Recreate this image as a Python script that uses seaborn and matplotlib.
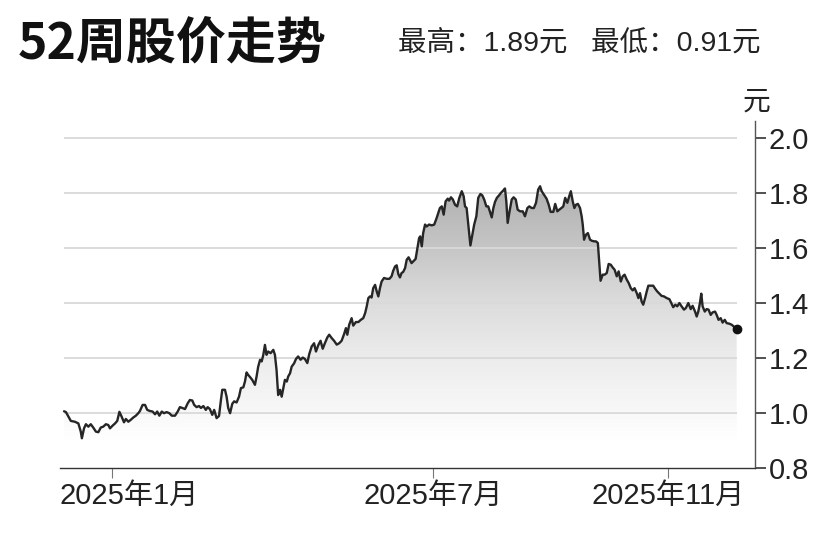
import numpy as np
import matplotlib
matplotlib.use("Agg")
import matplotlib.pyplot as plt
import matplotlib.transforms as mtransforms
import seaborn as sns
from matplotlib.colors import LinearSegmentedColormap

# ---------------- data (trading-day index, price in 元) ----------------
day = [0.4, 1.1, 2.0, 2.9, 4.4, 5.7, 6.6, 7.0, 7.8, 8.5, 9.4, 10.3, 11.2, 12.2, 13.1, 14.0, 14.9,
       15.9, 16.8, 17.4, 18.4, 19.3, 20.1, 20.9, 21.7, 22.6, 23.3, 24.2, 25.1, 26.0, 27.0, 27.9,
       28.5, 29.5, 30.4, 31.2, 32.2, 33.2, 34.1, 34.9, 35.7, 36.6, 37.4, 38.4, 39.4, 40.3, 41.5,
       42.5, 43.3, 44.2, 45.2, 46.2, 47.0, 47.9, 48.6, 49.5, 50.4, 51.1, 52.0, 52.9, 53.6, 54.4,
       55.3, 56.0, 56.9, 57.8, 58.5, 59.0, 60.0, 60.6, 61.2, 61.9, 62.7, 63.4, 64.3, 65.2, 65.9,
       66.8, 67.4, 68.0, 68.6, 69.3, 70.1, 71.1, 71.7, 72.3, 73.0, 73.6, 74.2, 74.8, 75.4, 76.0,
       76.9, 77.9, 78.5, 79.1, 79.7, 80.4, 81.0, 81.6, 82.2, 82.9, 83.4, 84.1, 84.7, 85.6,
       86.3, 87.1, 88.0, 88.8, 89.6, 90.5, 91.2, 92.1, 93.0, 93.7, 94.6, 95.4, 96.2, 97.0, 97.9,
       98.6, 99.5, 100.4, 101.4, 102.3, 103.2, 104.1, 104.8, 105.3, 106.0, 106.9, 107.5, 108.5,
       109.4, 110.3, 111.2, 111.9, 112.5, 113.1, 113.7, 114.3, 114.9, 115.6, 116.2, 116.8, 117.4,
       118.0, 118.9, 119.9, 120.9, 121.7, 122.3, 123.0, 123.6, 124.2, 124.8, 125.4, 126.0, 126.7,
       127.3, 128.0, 129.1, 130.6,
       131.9, 132.3, 132.9, 133.4, 134.1, 134.7, 135.6, 136.6, 137.5, 138.4, 139.0, 139.6, 140.3,
       141.0, 141.7, 142.5, 143.0, 143.7, 144.4, 145.2, 146.0, 146.8, 147.7, 148.4, 148.9, 149.5,
       150.1, 150.9, 151.6, 152.3, 153.1, 153.8, 154.6, 155.3, 156.0, 156.8, 157.5, 158.1, 158.8,
       159.4, 160.0, 160.7, 161.5, 162.2, 163.0, 163.7, 164.2, 164.7, 165.4, 166.2, 166.9, 167.7,
       168.4, 169.3,
       170.3, 171.1, 172.0, 172.7, 173.6, 174.4, 175.2, 176.0, 176.7, 177.3, 178.1, 179.1, 179.9,
       180.6, 181.6, 182.3, 183.1, 183.8, 184.6, 185.3, 186.0, 186.8, 187.5, 188.1, 188.8, 189.4,
       190.0, 190.7, 191.5, 192.1, 192.5, 193.0, 193.7, 194.4, 195.2, 195.9, 196.7, 197.4, 198.1,
       198.6, 199.1, 199.9, 200.6, 201.4, 202.1, 202.9, 203.6, 204.3, 205.1, 205.8, 206.6, 207.3,
       208.0, 208.8, 209.5,
       210.3, 211.0, 211.7, 212.5, 213.1, 213.7, 214.3, 214.9, 215.6, 216.2, 216.8, 217.7, 218.6,
       219.4, 220.1, 220.9, 221.7, 222.6, 223.6, 224.6, 225.3, 226.0, 226.8, 227.5, 228.3, 229.1,
       230.0, 230.7, 231.6, 232.5, 233.2, 234.1, 234.7, 235.3, 235.9, 236.4, 236.9, 237.7, 238.4,
       239.1, 239.9, 240.6, 241.5, 242.1, 242.8, 243.6, 244.3, 245.1, 245.8, 246.8, 247.7, 248.4,
       249.5]

price = [1.006, 1.003, 0.987, 0.971, 0.968, 0.962, 0.932, 0.908, 0.944, 0.959, 0.950, 0.959, 0.947,
         0.932, 0.930, 0.947, 0.950, 0.959, 0.956, 0.944, 0.954, 0.962, 0.971, 1.004, 0.987, 0.966,
         0.978, 0.968, 0.975, 0.983, 0.990, 0.999, 1.007, 1.029, 1.029, 1.011, 1.007, 1.005, 0.995,
         1.005, 0.990, 1.005, 0.999, 1.003, 0.999, 0.990, 0.990,
         1.005, 1.021, 1.018, 1.014, 1.035, 1.047, 1.045, 1.029, 1.021, 1.025, 1.018, 1.025, 1.011,
         1.021, 1.014, 0.993, 1.011, 0.981, 0.989, 1.047, 1.084, 1.084, 1.059, 1.018, 0.999, 1.033,
         1.042, 1.038, 1.059, 1.090, 1.093, 1.114, 1.147, 1.138, 1.130, 1.120, 1.102, 1.132, 1.168,
         1.193, 1.187, 1.211, 1.247, 1.211, 1.223, 1.217, 1.229, 1.211, 1.156, 1.065, 1.084, 1.059,
         1.090, 1.120, 1.114, 1.132, 1.144, 1.168, 1.180,
         1.196, 1.205, 1.193, 1.201, 1.196, 1.181, 1.213, 1.241, 1.253, 1.223, 1.247, 1.262, 1.233,
         1.253, 1.274, 1.284, 1.272, 1.262, 1.248, 1.253, 1.262, 1.286, 1.308, 1.284, 1.320, 1.344,
         1.317, 1.330, 1.330, 1.338, 1.344, 1.362, 1.387, 1.417, 1.423, 1.419, 1.453, 1.465, 1.441,
         1.423, 1.453, 1.477, 1.490, 1.487, 1.487, 1.496, 1.516, 1.532, 1.536, 1.504, 1.492, 1.508,
         1.512, 1.526, 1.556, 1.565, 1.544, 1.559,
         1.635, 1.641, 1.605, 1.653, 1.684, 1.677, 1.684, 1.681, 1.684, 1.708, 1.726, 1.744, 1.750,
         1.720, 1.768, 1.778, 1.771, 1.783, 1.775, 1.756, 1.750, 1.781, 1.805, 1.787, 1.750, 1.744,
         1.684, 1.608, 1.647, 1.684, 1.714, 1.781, 1.795, 1.790, 1.775, 1.750, 1.750, 1.732, 1.710,
         1.744, 1.766, 1.781, 1.790, 1.799, 1.807, 1.815, 1.768, 1.690, 1.732, 1.775, 1.783, 1.775,
         1.738, 1.732,
         1.732, 1.714, 1.744, 1.750, 1.744, 1.744, 1.763, 1.811, 1.823, 1.805, 1.793, 1.778, 1.756,
         1.730, 1.730, 1.759, 1.732, 1.738, 1.744, 1.750, 1.781, 1.763, 1.787, 1.805, 1.768, 1.744,
         1.756, 1.759, 1.744, 1.714, 1.684, 1.629, 1.647, 1.653, 1.629, 1.625, 1.623, 1.623, 1.617,
         1.550, 1.480, 1.502, 1.502, 1.508, 1.541, 1.538, 1.528, 1.520, 1.496, 1.514, 1.477, 1.496,
         1.502, 1.484, 1.472,
         1.453, 1.445, 1.453, 1.435, 1.417, 1.435, 1.405, 1.393, 1.417, 1.441, 1.462, 1.462, 1.462,
         1.450, 1.441, 1.433, 1.425, 1.423, 1.417, 1.413, 1.399, 1.384, 1.393, 1.387, 1.399, 1.387,
         1.375, 1.381, 1.399, 1.377, 1.389, 1.368, 1.350, 1.368, 1.399, 1.433, 1.387, 1.368, 1.377,
         1.375, 1.356, 1.365, 1.368, 1.356, 1.338, 1.344, 1.328, 1.338, 1.326, 1.324, 1.320, 1.314,
         1.304]

month_days = [18, 137, 224]
month_labels = ["2025年1月", "2025年7月", "2025年11月"]
y_ticks = [0.8, 1.0, 1.2, 1.4, 1.6, 1.8, 2.0]
title = "52周股价走势"
subtitle = "最高：1.89元   最低：0.91元"
unit = "元"

# ---------------- style ----------------
sns.set_style("white", {"ytick.right": True, "xtick.bottom": True})
plt.rcParams["font.family"] = ["Liberation Sans", "Noto Sans CJK SC"]

fig = plt.figure(figsize=(8.34, 5.56), dpi=100)
ax = fig.add_axes([60 / 834, 88 / 556, 695 / 834, 347 / 556])

day_a = np.array(day)
price_a = np.array(price)

# gradient fill under the line
cmap = LinearSegmentedColormap.from_list(
    "fade",
    [(0.0, "#ffffff"), (0.10, "#ffffff"), (0.20, "#f8f8f8"), (0.39, "#ececec"),
     (0.59, "#dcdcdc"), (0.78, "#c6c6c6"), (1.0, "#b0b0b0")])
grad = np.linspace(0, 1, 256).reshape(-1, 1)
im = ax.imshow(grad, extent=[day_a[0], day_a[-1], 0.8, price_a.max()], origin="lower",
               aspect="auto", cmap=cmap, zorder=1, interpolation="bilinear")
poly = ax.fill_between(day_a, price_a, 0.8, color="none", lw=0)
im.set_clip_path(poly.get_paths()[0], transform=ax.transData)

# grid lines
ax.hlines(y_ticks[1:], day_a[0], day_a[-1], color="#d9d9d9", lw=1.3, zorder=2)

# price line
sns.lineplot(x=day_a, y=price_a, ax=ax, color="#262626", linewidth=1.7, zorder=3)
ax.plot([day_a[-1]], [price_a[-1]], "o", color="#111111", ms=6, zorder=4)

ax.set_xlim(-1.1, 256.3)
ax.set_ylim(0.8, 2.06)

for s in ["left", "top"]:
    ax.spines[s].set_visible(False)
ax.spines["bottom"].set_color("#333333")
ax.spines["bottom"].set_linewidth(1.0)
ax.spines["right"].set_color("#555555")
ax.spines["right"].set_linewidth(1.0)

ax.set_xticks(month_days)
ax.set_xticklabels(month_labels)
ax.set_yticks(y_ticks)
ax.set_yticklabels([f"{v:.1f}" for v in y_ticks])
ax.tick_params(axis="x", bottom=True, direction="out", length=7, width=0.8,
               color="#777777", labelcolor="#222222", pad=3, labelsize=21)
ax.tick_params(axis="y", which="major", left=False, right=True, labelleft=False,
               labelright=True, direction="out", length=8, width=1.2,
               color="#333333", labelcolor="#222222", pad=2, labelsize=21)
# first month label would run past the axis start: anchor it at the left edge
first = ax.get_xticklabels()[0]
first.set_horizontalalignment("left")
first.set_transform(first.get_transform() +
                    mtransforms.ScaledTranslation(-52 / 100, 0, fig.dpi_scale_trans))
ax.set_xlabel("")
ax.set_ylabel("")
ax.grid(False)

fig.text(18 / 834, 1 - 44 / 556, title, family=["Noto Sans CJK SC"], weight="bold",
         fontsize=36, va="center", ha="left", color="#111111")
fig.text(398 / 834, 1 - 43 / 556, subtitle, fontsize=20.5, va="center", ha="left",
         color="#222222")
fig.text(757 / 834, 1 - 103 / 556, unit, fontsize=20, va="center", ha="center",
         color="#222222")

fig.savefig("out.png", dpi=100, facecolor="white")
